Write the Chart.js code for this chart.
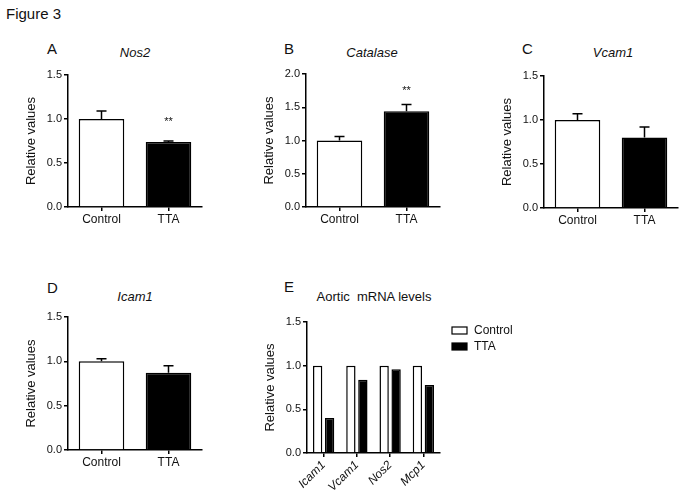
<!DOCTYPE html>
<html>
<head>
<meta charset="utf-8">
<script src="https://cdn.jsdelivr.net/npm/chart.js@4.4.1/dist/chart.umd.min.js"></script>
<style>
  body { margin: 0; background: #fff; }
  #fig { position: relative; width: 683px; height: 496px; overflow: hidden; font-family: 'Liberation Sans', Arial, sans-serif; color: #111; }
  #fig canvas { position: absolute; }
  .txt { position: absolute; line-height: 1; white-space: nowrap; }
  .letter { font-size: 15px; }
  .gene { font-size: 13px; font-style: italic; width: 200px; text-align: center; }
</style>
</head>
<body>
<div id="fig">
  <div class="txt" style="left:6px;top:6px;font-size:15px">Figure 3</div>
  <div class="txt letter" style="left:47px;top:41px">A</div>
  <div class="txt letter" style="left:284px;top:41px">B</div>
  <div class="txt letter" style="left:522px;top:41px">C</div>
  <div class="txt letter" style="left:47px;top:280px">D</div>
  <div class="txt letter" style="left:284px;top:279px">E</div>
  <div class="txt gene" style="left:35px;top:46px">Nos2</div>
  <div class="txt gene" style="left:272px;top:46px">Catalase</div>
  <div class="txt gene" style="left:513px;top:46px">Vcam1</div>
  <div class="txt gene" style="left:35px;top:290px">Icam1</div>
  <div class="txt gene" style="left:274px;top:290px;font-style:normal">Aortic&nbsp; mRNA levels</div>
  <canvas id="chartA"></canvas>
  <canvas id="chartB"></canvas>
  <canvas id="chartC"></canvas>
  <canvas id="chartD"></canvas>
  <canvas id="chartE"></canvas>
</div>
<script>
const groups = ['Control', 'TTA'];
const groupColors = ['#ffffff', '#000000'];

const nos2 = [1.0, 0.74];
const nos2Err = [0.09, 0.01];
const nos2Marks = ['', '**'];

const catalase = [1.0, 1.44];
const catalaseErr = [0.06, 0.10];
const catalaseMarks = ['', '**'];

const vcam1 = [1.0, 0.80];
const vcam1Err = [0.07, 0.12];

const icam1 = [1.0, 0.87];
const icam1Err = [0.03, 0.08];

const aorticGenes = ['Icam1', 'Vcam1', 'Nos2', 'Mcp1'];
const aorticControl = [1.0, 1.0, 1.0, 1.0];
const aorticTTA = [0.40, 0.84, 0.96, 0.78];

const yTicks15 = [0, 0.5, 1.0, 1.5];
const yTicks20 = [0, 0.5, 1.0, 1.5, 2.0];

Chart.defaults.font.family = "'Liberation Sans', Arial, sans-serif";
Chart.defaults.color = '#111';

const errorBarPlugin = {
  id: 'errorBars',
  afterDatasetsDraw(chart, args, opts) {
    if (!opts || !opts.errors) return;
    const ctx = chart.ctx;
    const y = chart.scales.y;
    const meta = chart.getDatasetMeta(0);
    const values = chart.data.datasets[0].data;
    ctx.save();
    ctx.strokeStyle = '#000';
    ctx.lineWidth = 1.5;
    meta.data.forEach((bar, i) => {
      const base = y.getPixelForValue(values[i]);
      const top = y.getPixelForValue(values[i] + opts.errors[i]);
      ctx.beginPath();
      ctx.moveTo(bar.x, base);
      ctx.lineTo(bar.x, top);
      ctx.moveTo(bar.x - 5, top);
      ctx.lineTo(bar.x + 5, top);
      ctx.stroke();
      const mark = opts.marks ? opts.marks[i] : '';
      if (mark) {
        // stars sit a fixed distance above the bar itself
        ctx.fillStyle = '#111';
        ctx.font = "11px 'Liberation Sans', Arial, sans-serif";
        ctx.textAlign = 'center';
        ctx.textBaseline = 'alphabetic';
        ctx.fillText(mark, bar.x, base - 17);
      }
    });
    ctx.restore();
  }
};

const boxLegendPlugin = {
  id: 'boxLegend',
  afterDraw(chart, args, opts) {
    if (!opts || !opts.show) return;
    const ctx = chart.ctx;
    const area = chart.chartArea;
    ctx.save();
    ctx.font = "12px 'Liberation Sans', Arial, sans-serif";
    ctx.textBaseline = 'middle';
    ctx.textAlign = 'left';
    chart.data.datasets.forEach((ds, i) => {
      const x = area.right + 12;
      const y = area.top + 5 + i * 16;
      ctx.fillStyle = ds.backgroundColor;
      ctx.fillRect(x, y, 15, 7);
      ctx.strokeStyle = '#000';
      ctx.lineWidth = 1.2;
      ctx.strokeRect(x, y, 15, 7);
      ctx.fillStyle = '#111';
      ctx.fillText(ds.label, x + 22, y + 4);
    });
    ctx.restore();
  }
};

function makePanel(id, area, cfg) {
  const padTop = 15;
  const yWidth = 68;
  const xHeight = cfg.xHeight || 30;
  const padRight = cfg.padRight || 5;
  const canvas = document.getElementById(id);
  canvas.width = area.right - area.left + yWidth + padRight;
  canvas.height = area.bottom - area.top + padTop + xHeight;
  canvas.style.left = (area.left - yWidth) + 'px';
  canvas.style.top = (area.top - padTop) + 'px';

  return new Chart(canvas, {
    type: 'bar',
    data: { labels: cfg.labels, datasets: cfg.datasets },
    plugins: [errorBarPlugin, boxLegendPlugin],
    options: {
      responsive: false,
      animation: false,
      devicePixelRatio: 1,
      layout: { padding: { top: padTop, right: padRight, left: 0, bottom: 0 } },
      plugins: {
        legend: { display: false },
        tooltip: { enabled: false },
        errorBars: { errors: cfg.errors, marks: cfg.marks },
        boxLegend: { show: cfg.legend }
      },
      scales: {
        x: {
          grid: { display: true, drawOnChartArea: false, drawTicks: true, tickLength: 4, offset: false, color: '#000', lineWidth: 1.5 },
          border: { display: true, color: '#000', width: 1.5 },
          ticks: {
            font: { size: 12, style: cfg.italicX ? 'italic' : 'normal' },
            padding: 1,
            minRotation: cfg.rotate || 0,
            maxRotation: cfg.rotate || 0,
            autoSkip: false
          },
          afterFit: (s) => { s.height = xHeight; }
        },
        y: {
          min: 0,
          max: cfg.yTicks[cfg.yTicks.length - 1],
          afterBuildTicks: (s) => { s.ticks = cfg.yTicks.map((v) => ({ value: v })); },
          grid: { display: true, drawOnChartArea: false, drawTicks: true, tickLength: 4, color: '#000', lineWidth: 1.5 },
          border: { display: true, color: '#000', width: 1.5 },
          ticks: {
            font: { size: 11 },
            padding: 2,
            callback: (v) => Number(v).toFixed(1)
          },
          title: {
            display: true,
            text: 'Relative values',
            font: { size: 13 },
            padding: { top: 24, bottom: 0 }
          },
          afterFit: (s) => { s.width = yWidth; }
        }
      }
    }
  });
}

function pairDataset(values) {
  return [{
    data: values,
    backgroundColor: groupColors,
    borderColor: '#000',
    borderWidth: 1.5,
    borderSkipped: 'bottom',
    categoryPercentage: 1,
    barPercentage: 0.68
  }];
}

makePanel('chartA', { left: 68, right: 202, top: 75, bottom: 207 }, {
  labels: groups, datasets: pairDataset(nos2), errors: nos2Err, marks: nos2Marks, yTicks: yTicks15
});
makePanel('chartB', { left: 306, right: 440, top: 74, bottom: 207 }, {
  labels: groups, datasets: pairDataset(catalase), errors: catalaseErr, marks: catalaseMarks, yTicks: yTicks20
});
makePanel('chartC', { left: 544, right: 678, top: 76, bottom: 208 }, {
  labels: groups, datasets: pairDataset(vcam1), errors: vcam1Err, yTicks: yTicks15, padRight: 3
});
makePanel('chartD', { left: 68, right: 202, top: 317, bottom: 450 }, {
  labels: groups, datasets: pairDataset(icam1), errors: icam1Err, yTicks: yTicks15
});
makePanel('chartE', { left: 307, right: 440, top: 322, bottom: 453 }, {
  labels: aorticGenes,
  datasets: [
    { label: groups[0], data: aorticControl, backgroundColor: groupColors[0], borderColor: '#000', borderWidth: 1.5, borderSkipped: 'bottom', categoryPercentage: 0.72, barPercentage: 0.78 },
    { label: groups[1], data: aorticTTA, backgroundColor: groupColors[1], borderColor: '#000', borderWidth: 1.5, borderSkipped: 'bottom', categoryPercentage: 0.72, barPercentage: 0.78 }
  ],
  yTicks: yTicks15,
  italicX: true,
  rotate: 45,
  xHeight: 40,
  padRight: 80,
  legend: true
});
</script>
</body>
</html>
